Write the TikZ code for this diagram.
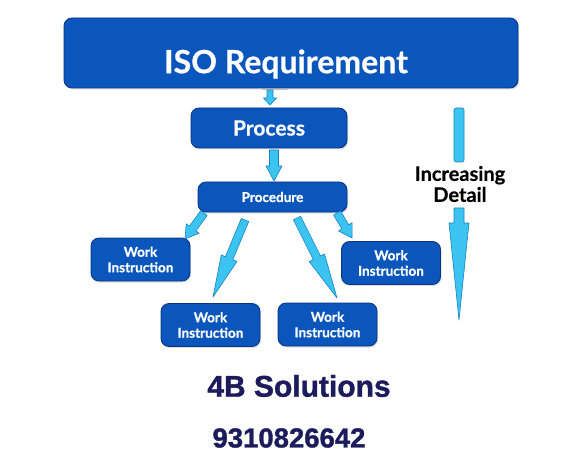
\documentclass[tikz,border=0pt]{standalone}
\usepackage{fontspec}
\setmainfont{Lato}
\newfontfamily\boxfont[BoldFeatures={FakeBold=0.6}]{Lato}
\newfontfamily\heavyfont[BoldFeatures={FakeBold=1.2}]{Liberation Sans}
\usetikzlibrary{calc,shadows}
\definecolor{boxblue}{RGB}{10,86,188}
\definecolor{boxedge}{RGB}{8,52,130}
\definecolor{arrowfill}{RGB}{60,196,240}
\definecolor{arrowedge}{RGB}{24,128,196}
\definecolor{navy}{RGB}{28,28,92}
\tikzset{
  bluebox/.style={fill=boxblue, draw=boxedge, line width=0.8pt, rounded corners=8pt,
    text=white, font=\boxfont\bfseries, align=center, inner sep=0pt,
    drop shadow={opacity=0.25, shadow xshift=1pt, shadow yshift=-1.5pt}},
  barrow/.style={fill=arrowfill, draw=arrowedge, line width=0.6pt, line join=round},
}
\newcommand{\blockarrow}[5]{%
  \coordinate (H) at ($(#2)!#5!(#1)$);
  \draw[barrow] ($(#1)!#3!-90:(#2)$) -- ($(H)!#3!90:(#1)$) -- ($(H)!#4!90:(#1)$) -- (#2)
     -- ($(H)!#4!-90:(#1)$) -- ($(H)!#3!-90:(#1)$) -- ($(#1)!#3!90:(#2)$) -- cycle;
}
\begin{document}
\begin{tikzpicture}[x=1pt,y=-1pt]
\useasboundingbox[fill=white] (0,0) rectangle (576,476);

\node[bluebox, minimum width=454pt, minimum height=70pt,
  label={[text=white, font=\boxfont\bfseries\fontsize{32}{36}\selectfont, anchor=base, xshift=-5pt, yshift=-11pt]center:ISO Requirement}] (iso) at (291,53) {};
\node[bluebox, minimum width=156pt, minimum height=40pt, font=\boxfont\bfseries\fontsize{21}{24}\selectfont] (proc) at (269,128) {Process};
\node[bluebox, minimum width=149pt, minimum height=30pt, font=\boxfont\bfseries\fontsize{13.5}{16}\selectfont] (pcd) at (272.5,197) {Procedure};
\tikzset{wi/.style={bluebox, minimum width=99pt, minimum height=43pt, font=\boxfont\bfseries\fontsize{13.5}{15.5}\selectfont}}
\node[wi] (w1) at (140.5,259.5) {Work\\Instruction};
\node[wi] (w2) at (210.5,325) {Work\\Instruction};
\node[wi] (w3) at (327.5,324.5) {Work\\Instruction};
\node[wi] (w4) at (391,263) {Work\\Instruction};

% arrows
\draw[gray!50, line width=0.5pt] (262,89) -- (288,89);
\coordinate (a0s) at (270,90);  \coordinate (a0t) at (270,105);
\blockarrow{a0s}{a0t}{3pt}{6.5pt}{7pt}
\coordinate (a1s) at (274,150); \coordinate (a1t) at (274,181);
\blockarrow{a1s}{a1t}{4.5pt}{8pt}{15pt}
\coordinate (b1s) at (204,213); \coordinate (b1t) at (185,239);
\blockarrow{b1s}{b1t}{4pt}{8pt}{13pt}
\coordinate (b2s) at (245,220); \coordinate (b2t) at (213,297);
\blockarrow{b2s}{b2t}{4pt}{8.5pt}{42pt}
\coordinate (b3s) at (297,218); \coordinate (b3t) at (337,298);
\blockarrow{b3s}{b3t}{4pt}{8.5pt}{45pt}
\coordinate (b4s) at (337,213); \coordinate (b4t) at (352,238);
\blockarrow{b4s}{b4t}{4pt}{8pt}{13pt}

% increasing detail arrow
\draw[barrow, rounded corners=2pt] (454,162) -- (454,108) -- (464,108) -- (464,162) -- cycle;
\draw[barrow] (454,208) -- (454,223) -- (449,223) -- (459,320) -- (469,223) -- (464,223) -- (464,208) -- cycle;
\node[font=\boxfont\bfseries\fontsize{20}{21}\selectfont, align=center, text=black] (inc) at (460,184) {Increasing\\Detail};

\node[font=\heavyfont\bfseries\fontsize{30}{34}\selectfont, text=navy] (sol) at (299,386) {4B Solutions};
\node[font=\heavyfont\bfseries\fontsize{27.5}{30}\selectfont, text=navy] (ph) at (289,438) {9310826642};
\end{tikzpicture}
\end{document}
